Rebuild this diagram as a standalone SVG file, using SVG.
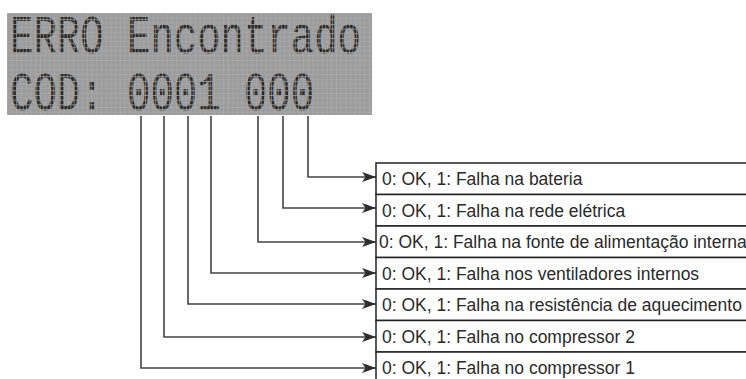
<svg xmlns="http://www.w3.org/2000/svg" width="746" height="379" viewBox="0 0 746 379">
  <defs>
    <pattern id="grid" x="7" y="13" width="4.7" height="4.7" patternUnits="userSpaceOnUse">
      <rect width="4.7" height="4.7" fill="#9c9c9c"/>
      <path d="M0 0H4.7M0 0V4.7" stroke="#b2b2b2" stroke-width="0.8" fill="none"/>
    </pattern>
    <pattern id="dots" x="0" y="0" width="3.4" height="3.4" patternUnits="userSpaceOnUse">
      <rect width="2.8" height="2.8" fill="#2a2a2a"/>
    </pattern>
    <marker id="arr" viewBox="0 0 14 10" refX="14" refY="5" markerWidth="14" markerHeight="10" markerUnits="userSpaceOnUse" orient="auto">
      <path d="M0 0L14 5L0 10L3.5 5Z" fill="#2e2e2e"/>
    </marker>
  </defs>
  <style>
    .lcd { font-family: "Liberation Mono", "DejaVu Sans Mono", monospace; font-size: 39px; fill: url(#dots); }
    .box { fill: #fff; stroke: #222; stroke-width: 1.5; }
    .lbl { font-family: "Liberation Sans", Arial, sans-serif; font-size: 17.5px; fill: #2a2a2a; }
    .wire { fill: none; stroke: #444; stroke-width: 1.6; marker-end: url(#arr); }
  </style>
  <rect width="746" height="379" fill="#fff"/>

  <g id="lcd">
    <rect x="7" y="13" width="365" height="102" fill="url(#grid)"/>
    <text class="lcd" transform="translate(10,53) scale(1,1.38)">ERRO Encontrado</text>
    <text class="lcd" transform="translate(10,110) scale(1,1.38)">COD: 0001 000</text>
  </g>

  <g id="connectors">
    <path class="wire" d="M308 116V177H376"/>
    <path class="wire" d="M283 116V208H376"/>
    <path class="wire" d="M258 116V242H376"/>
    <path class="wire" d="M211 116V273H376"/>
    <path class="wire" d="M188 116V304H376"/>
    <path class="wire" d="M164 116V337H376"/>
    <path class="wire" d="M141 116V368H376"/>
  </g>

  <g id="row1"><rect class="box" x="376" y="163" width="400" height="31.5"/><text class="lbl" x="382" y="185">0: OK, 1: Falha na bateria</text></g>
  <g id="row2"><rect class="box" x="376" y="194.5" width="400" height="31.5"/><text class="lbl" x="382" y="216.5">0: OK, 1: Falha na rede elétrica</text></g>
  <g id="row3"><rect class="box" x="376" y="226" width="400" height="31.5"/><text class="lbl" x="379" y="248">0: OK, 1: Falha na fonte de alimentação interna</text></g>
  <g id="row4"><rect class="box" x="376" y="257.5" width="400" height="31.5"/><text class="lbl" x="382" y="279.5">0: OK, 1: Falha nos ventiladores internos</text></g>
  <g id="row5"><rect class="box" x="376" y="289" width="400" height="31.5"/><text class="lbl" x="382" y="311">0: OK, 1: Falha na resistência de aquecimento</text></g>
  <g id="row6"><rect class="box" x="376" y="320.5" width="400" height="31.5"/><text class="lbl" x="382" y="342.5">0: OK, 1: Falha no compressor 2</text></g>
  <g id="row7"><rect class="box" x="376" y="352" width="400" height="31.5"/><text class="lbl" x="382" y="374">0: OK, 1: Falha no compressor 1</text></g>
</svg>
